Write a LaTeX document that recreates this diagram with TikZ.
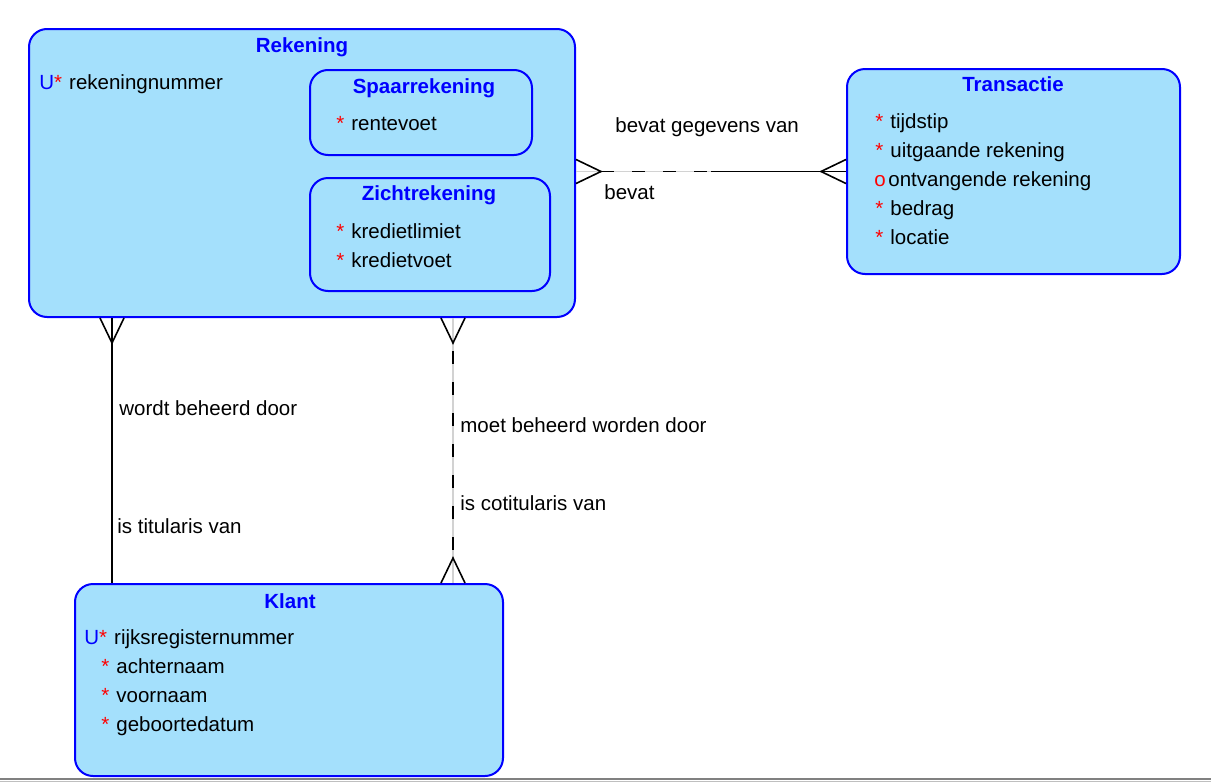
\documentclass[tikz,border=0pt]{standalone}
\usepackage{fontspec}
\setmainfont{Liberation Sans}
\usetikzlibrary{calc}
\definecolor{entityblue}{RGB}{0,0,255}
\definecolor{entityfill}{RGB}{164,224,252}
\definecolor{markred}{RGB}{255,0,0}
\newcommand{\mnd}{\textcolor{markred}{*}\hspace{3.5pt}}
\newcommand{\opt}{\textcolor{markred}{o}\hspace{1.3pt}}
\newcommand{\uid}{\textcolor{entityblue}{U}}

\tikzset{
  entity/.style={draw=entityblue,line width=1pt,fill=entityfill,rounded corners=9pt,inner sep=0pt},
  title/.style={anchor=base,inner sep=0pt,text=entityblue,font=\fontsize{10.25}{12}\selectfont\bfseries},
  attr/.style={anchor=base west,inner sep=0pt},
  lbl/.style={anchor=base west,inner sep=0pt},
  rel/.style={line width=0.8pt},
  optrel/.style={rel,dash pattern=on 6.5pt off 9pt},
  underlay/.style={gray!35,line width=0.6pt}
}

\begin{document}
\begin{tikzpicture}[x=0.5pt,y=-0.5pt,font=\fontsize{10.25}{12}\selectfont]
  \useasboundingbox (0,0) rectangle (1211,782);
  \fill[white] (0,0) rectangle (1211,782);
  \draw[gray,line width=0.6pt] (0,779) -- (1211,779);
  \draw[gray!50,line width=0.6pt] (0,781.5) -- (1211,781.5);

  % entities
  \node[entity,minimum width=273pt,minimum height=144pt] (rekening) at (302,173) {};
  \node[entity,minimum width=111pt,minimum height=42.5pt] (spaar) at (421,112.5) {};
  \node[entity,minimum width=120pt,minimum height=56.5pt] (zicht) at (430,234.5) {};
  \node[entity,minimum width=166.5pt,minimum height=102.5pt] (transactie) at (1013.5,171.5) {};
  \node[entity,minimum width=214pt,minimum height=96pt] (klant) at (289,680) {};

  \node[title] (rekening-title) at (302,52) {Rekening};
  \node[attr] (rekeningnummer) at (39,89) {\uid\mnd rekeningnummer};

  \node[title] (spaar-title) at (424,93) {Spaarrekening};
  \node[attr] (rentevoet) at (336,130) {\mnd rentevoet};

  \node[title] (zicht-title) at (429,200) {Zichtrekening};
  \node[attr] (kredietlimiet) at (336,238) {\mnd kredietlimiet};
  \node[attr] (kredietvoet) at (336,267) {\mnd kredietvoet};

  \node[title] (transactie-title) at (1013,91) {Transactie};
  \node[attr] (tijdstip) at (875,128) {\mnd tijdstip};
  \node[attr] (uitgaande) at (875,157) {\mnd uitgaande rekening};
  \node[attr] (ontvangende) at (874,186) {\opt ontvangende rekening};
  \node[attr] (bedrag) at (875,215) {\mnd bedrag};
  \node[attr] (locatie) at (875,244) {\mnd locatie};

  \node[title] (klant-title) at (290,608) {Klant};
  \node[attr] (rijksregisternummer) at (84,644) {\uid\mnd rijksregisternummer};
  \node[attr] (achternaam) at (101,673) {\mnd achternaam};
  \node[attr] (voornaam) at (101,702) {\mnd voornaam};
  \node[attr] (geboortedatum) at (101,731) {\mnd geboortedatum};

  % rekening -- transactie
  \coordinate (gegevens-end) at (rekening.east |- transactie.west);
  \coordinate (gegevens-mid) at ($(gegevens-end)!0.5!(transactie.west)$);
  \draw[underlay] (gegevens-end) -- (gegevens-mid);
  \draw[optrel] ($(gegevens-end)+(25,0)$) -- (gegevens-mid);
  \draw[rel] (gegevens-mid) -- (transactie.west);
  \draw[rel] (gegevens-end) ++(0,-12) -- ++(25,12) -- ++(-25,12);
  \draw[rel] (transactie.west) ++(0,-12) -- ++(-25,12) -- ++(25,12);
  \node[lbl] (gegevens-lbl) at (615,132) {bevat gegevens van};
  \node[lbl] (bevat-lbl) at (604,199) {bevat};

  % rekening -- klant (titularis)
  \coordinate (titular-top) at ($(rekening.south west)+(84,0)$);
  \coordinate (titular-bot) at (titular-top |- klant.north);
  \draw[rel] (titular-top) -- (titular-bot);
  \draw[rel] (titular-top) ++(-12,0) -- ++(12,25) -- ++(12,-25);
  \node[lbl] (beheerd-lbl) at (119,415) {wordt beheerd door};
  \node[lbl] (titularis-lbl) at (117,533) {is titularis van};

  % rekening -- klant (cotitularis)
  \coordinate (cotitular-top) at ($(rekening.south west)+(425,0)$);
  \coordinate (cotitular-bot) at (cotitular-top |- klant.north);
  \draw[underlay] (cotitular-top) -- (cotitular-bot);
  \draw[optrel] ($(cotitular-top)+(0,33)$) -- ($(cotitular-bot)+(0,-25)$);
  \draw[rel] (cotitular-top) ++(-12,0) -- ++(12,25) -- ++(12,-25);
  \draw[rel] (cotitular-bot) ++(-12,0) -- ++(12,-25) -- ++(12,25);
  \node[lbl] (moet-lbl) at (460,432) {moet beheerd worden door};
  \node[lbl] (cotitularis-lbl) at (460,510) {is cotitularis van};
\end{tikzpicture}
\end{document}
